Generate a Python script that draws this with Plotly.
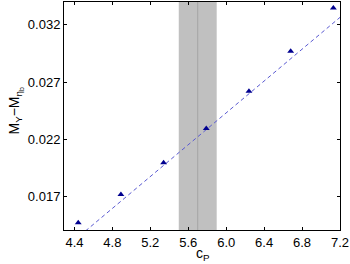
import numpy as np
import plotly.graph_objects as go

# data
cp = [4.44, 4.89, 5.34, 5.79, 6.24, 6.68, 7.13]
dm = [0.01473, 0.0172, 0.01997, 0.02296, 0.02621, 0.02971, 0.03348]
fit_slope = 0.006948
fit_x0 = 4.523
fit_y0 = 0.01406
band_lo, band_hi, band_mid = 5.5, 5.9, 5.7
x_ticks = [4.4, 4.8, 5.2, 5.6, 6.0, 6.4, 6.8, 7.2]
y_ticks = [0.017, 0.022, 0.027, 0.032]
x_range = [4.29, 7.2]
y_range = [0.0141, 0.0340]

fx = np.array(x_range)
fy = fit_y0 + fit_slope * (fx - fit_x0)

fig = go.Figure()
fig.add_vrect(x0=band_lo, x1=band_hi, fillcolor="#c0c0c0", opacity=1, line_width=0, layer="below")
fig.add_vline(x=band_mid, line=dict(color="#a4a4a4", width=1), layer="below")
fig.add_trace(go.Scatter(x=fx, y=fy, mode="lines", cliponaxis=True,
                         line=dict(color="#5a5ad2", width=1, dash="4px,3px")))
fig.add_trace(go.Scatter(x=cp, y=dm, mode="markers", cliponaxis=False,
                         marker=dict(symbol="triangle-up", size=6, color="#00008f")))

axis_common = dict(showgrid=False, zeroline=False, showline=True, linecolor="black",
                   linewidth=1, mirror="ticks", ticks="inside", ticklen=3,
                   tickcolor="black", tickfont=dict(size=13, color="black"),
                   automargin=False)
fig.update_xaxes(range=x_range, tickvals=x_ticks, ticktext=[f"{v:.1f}" for v in x_ticks],
                 **axis_common)
fig.update_yaxes(range=y_range, tickvals=y_ticks, ticktext=[f"{v:.3f}" for v in y_ticks],
                 **axis_common)
fig.add_annotation(text="c<sub>P</sub>", xref="paper", yref="paper", x=0.505, y=-0.055,
                   xanchor="center", yanchor="top", showarrow=False,
                   font=dict(size=14, color="black"))
fig.add_annotation(text="M<sub>Υ</sub>−M<sub>η<sub>b</sub></sub>", xref="paper", yref="paper",
                   x=-0.135, y=0.525, xanchor="right", yanchor="middle", textangle=-90,
                   showarrow=False, font=dict(size=14, color="black"))
fig.update_layout(width=350, height=264, showlegend=False,
                  margin=dict(l=64, r=10, t=2, b=34),
                  plot_bgcolor="white", paper_bgcolor="white",
                  font=dict(family="Liberation Sans, Arial, sans-serif", color="black"))
fig.write_html("out.html", config={"displayModeBar": False},
               post_script="document.body.style.margin='0';")
